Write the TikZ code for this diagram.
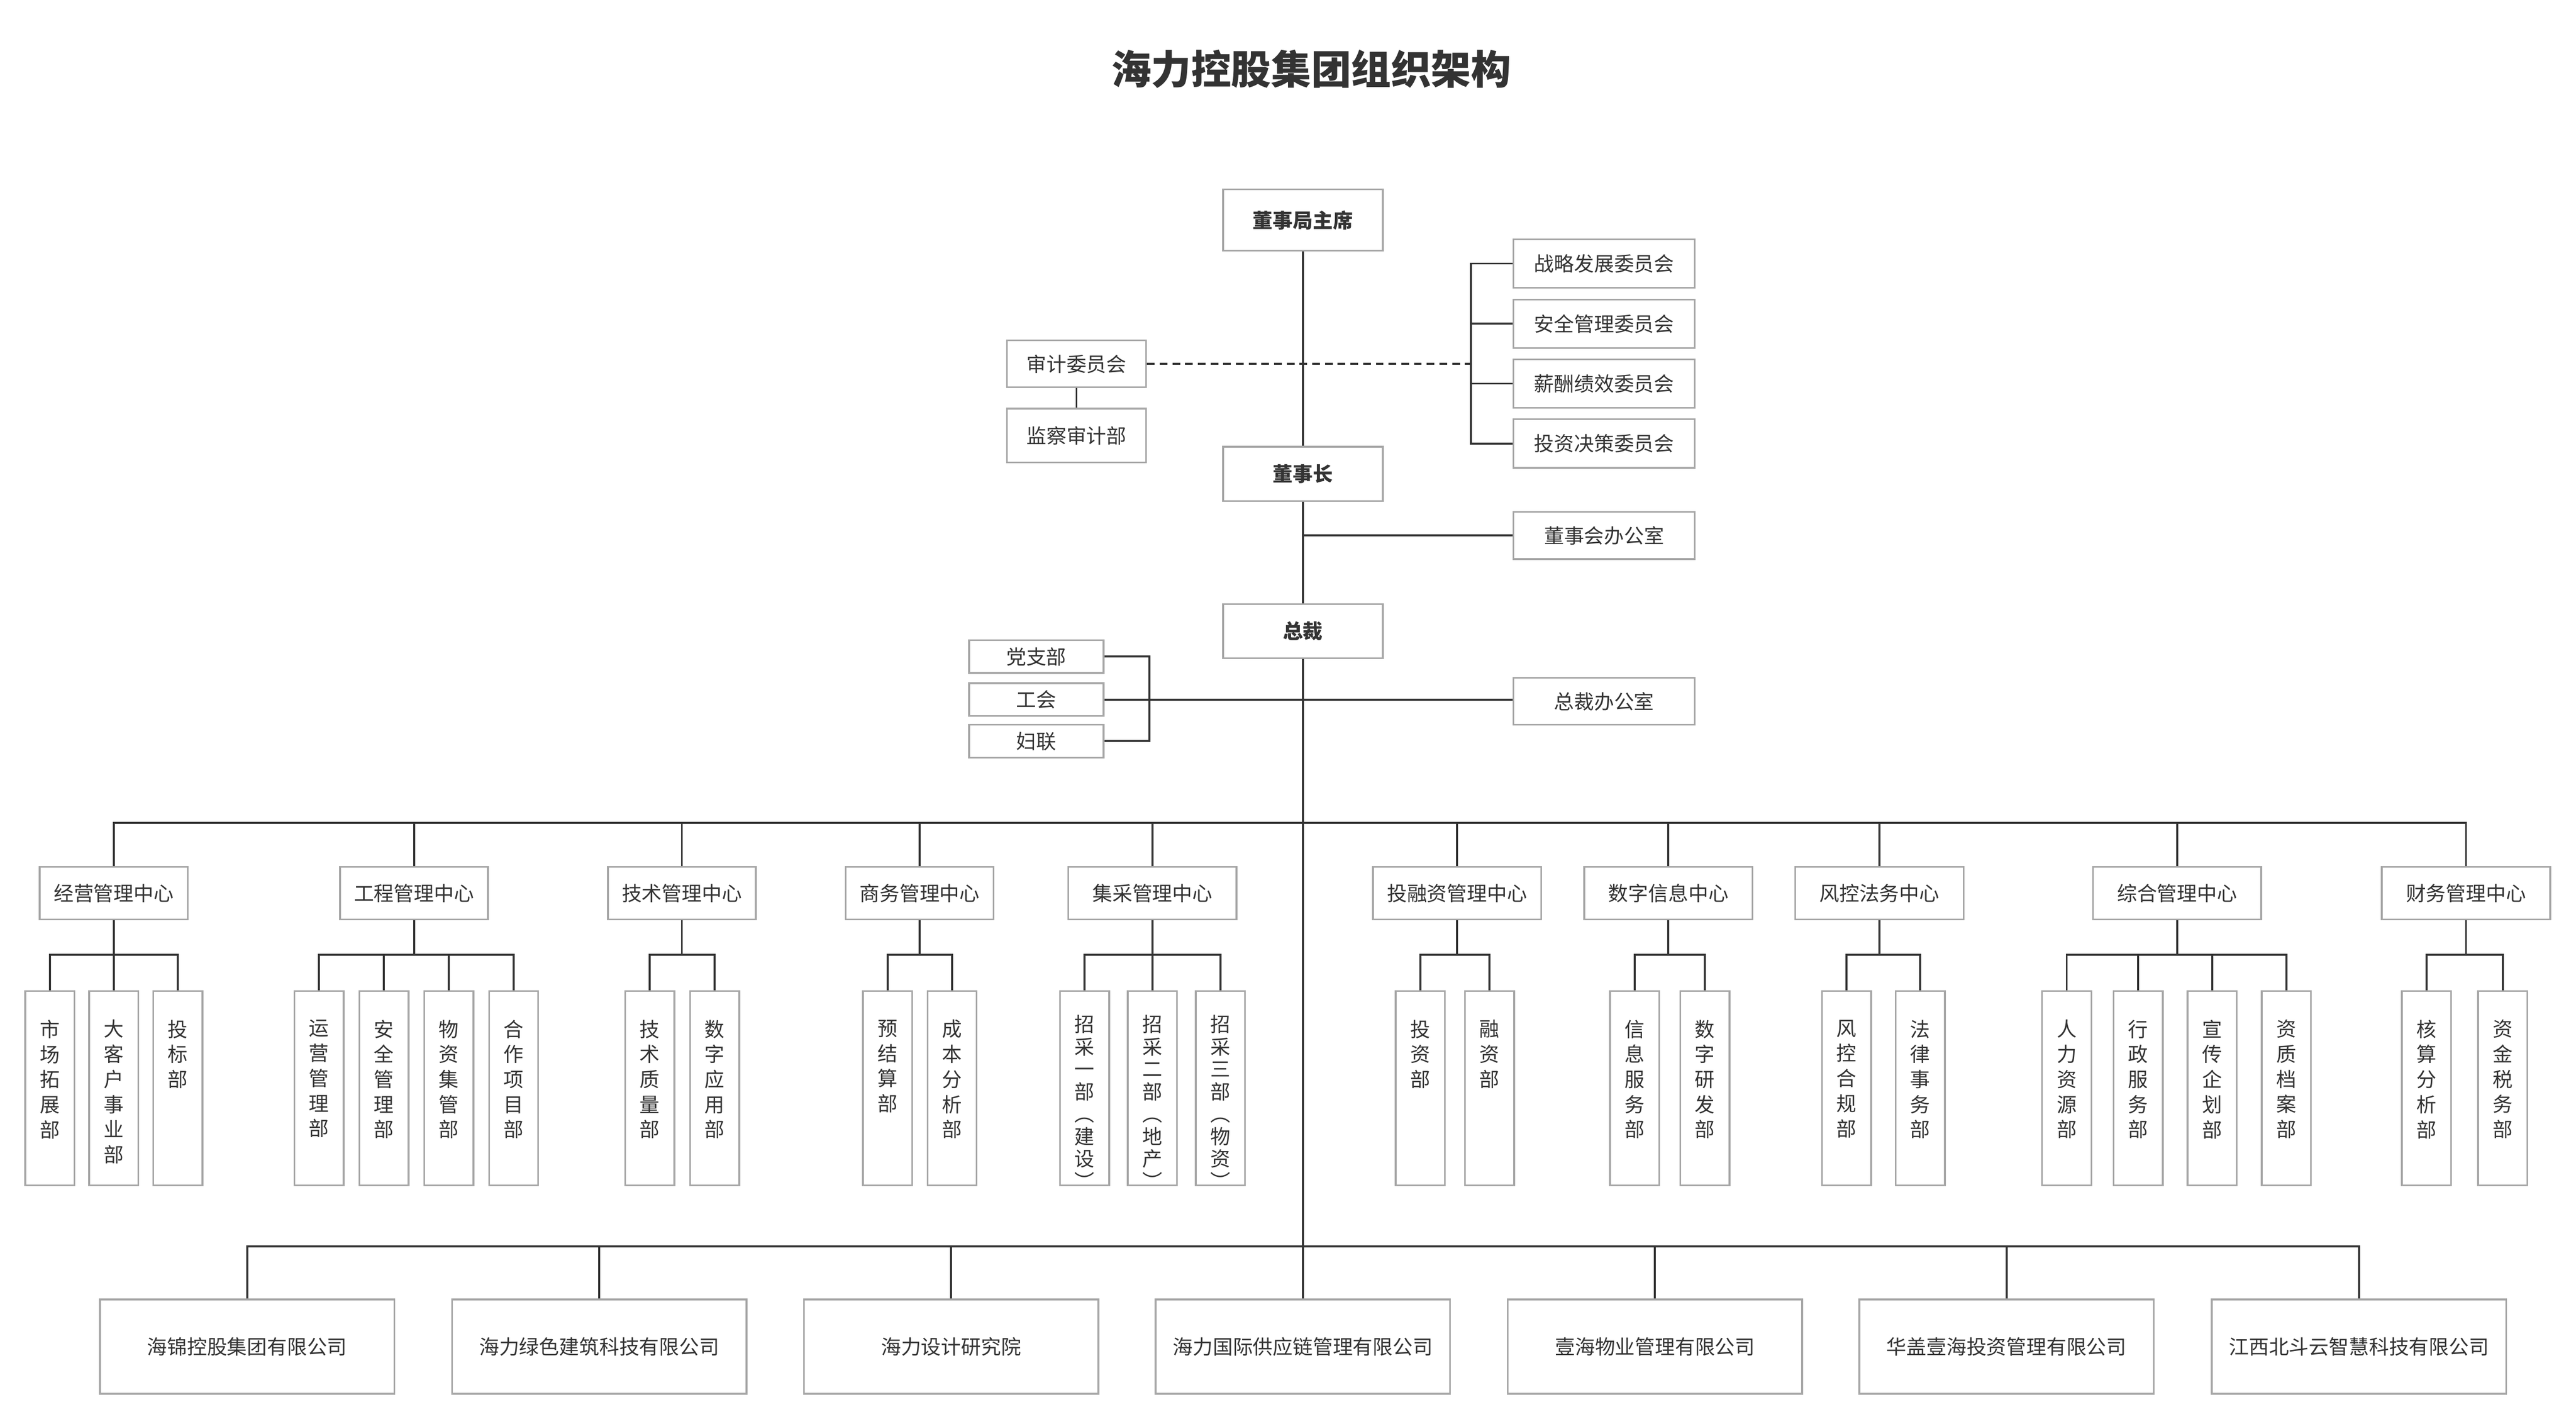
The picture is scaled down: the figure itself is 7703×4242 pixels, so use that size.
\documentclass[tikz,border=0pt]{standalone}
\usepackage{fontspec}
\setmainfont{Noto Sans CJK SC}
\usepackage{tikz}

\definecolor{boxgray}{HTML}{A6A6A6}
\definecolor{inkgray}{HTML}{333333}

\newcommand{\lpar}{\smash{︵}}
\newcommand{\rpar}{\smash{︶}}

\tikzset{
  box/.style={draw=boxgray, line width=1.5pt, fill=white, text=inkgray, inner sep=0pt,
    font=\fontsize{17}{20}\selectfont},
  topbox/.style={box, minimum width=4.77cm, font=\fontsize{17}{20}\selectfont\bfseries},
  combox/.style={box, minimum width=5.42cm, minimum height=1.45cm},
  sidebox/.style={box, minimum width=4.16cm},
  partybox/.style={box, minimum width=4.02cm, minimum height=0.98cm},
  centerbox/.style={box, minimum height=1.57cm},
  deptbox/.style={box, minimum width=1.47cm, minimum height=5.80cm},
  vbase/.style={anchor=north, align=center, text=inkgray, inner sep=0pt},
  vlab/.style={vbase, yshift=-0.88cm, font=\fontsize{17}{21.34}\selectfont},
  vlabtight/.style={vbase, yshift=-0.74cm, font=\fontsize{17}{19.06}\selectfont},
  cobox/.style={box, minimum width=8.80cm, minimum height=2.82cm},
  link/.style={draw=inkgray, line width=1.7pt},
  dashlink/.style={link, dash pattern=on 0.23cm off 0.15cm},
  titletext/.style={text=inkgray, inner sep=0pt, font=\fontsize{34}{40}\selectfont\bfseries},
}

\begin{document}
\begin{tikzpicture}[x=0.01cm, y=-0.01cm]
\useasboundingbox (0,0) rectangle (7703,4242);
\fill[white] (0,0) rectangle (7703,4242);
\node[titletext] (title) at (3921,206) {海力控股集团组织架构}; % Title
\node[topbox, minimum height=1.83cm] (chair) at (3896,658) {董事局主席}; % Top.0
\node[topbox, minimum height=1.62cm] (board) at (3896,1417) {董事长}; % Top.1
\node[topbox, minimum height=1.62cm] (ceo) at (3896,1887) {总裁}; % Top.2
\node[combox] (com1) at (4797,788) {战略发展委员会}; % Committee.0
\node[combox] (com2) at (4797,968) {安全管理委员会}; % Committee.1
\node[combox] (com3) at (4797,1147) {薪酬绩效委员会}; % Committee.2
\node[combox] (com4) at (4797,1326) {投资决策委员会}; % Committee.3
\node[sidebox, minimum height=1.40cm] (audit) at (3219,1088) {审计委员会}; % Side.0
\node[sidebox, minimum height=1.61cm] (supervise) at (3219,1302) {监察审计部}; % Side.1
\node[combox, minimum height=1.41cm] (boardoff) at (4797,1601) {董事会办公室}; % Office.0
\node[combox, minimum height=1.40cm] (ceooff) at (4797,2097) {总裁办公室}; % Office.1
\node[partybox] (party) at (3099,1963) {党支部}; % Party.0
\node[partybox] (union) at (3099,2092) {工会}; % Party.1
\node[partybox] (women) at (3099,2216) {妇联}; % Party.2
\node[centerbox, minimum width=4.42cm] (c1) at (340,2671) {经营管理中心}; % Center.1
\node[centerbox, minimum width=4.42cm] (c2) at (1238,2671) {工程管理中心}; % Center.2
\node[centerbox, minimum width=4.42cm] (c3) at (2039,2671) {技术管理中心}; % Center.3
\node[centerbox, minimum width=4.42cm] (c4) at (2750,2671) {商务管理中心}; % Center.4
\node[centerbox, minimum width=5.03cm] (c5) at (3446,2671) {集采管理中心}; % Center.5
\node[centerbox, minimum width=5.03cm] (c6) at (4357,2671) {投融资管理中心}; % Center.6
\node[centerbox, minimum width=5.03cm] (c7) at (4989,2671) {数字信息中心}; % Center.7
\node[centerbox, minimum width=5.03cm] (c8) at (5620,2671) {风控法务中心}; % Center.8
\node[centerbox, minimum width=5.03cm] (c9) at (6510,2671) {综合管理中心}; % Center.9
\node[centerbox, minimum width=5.03cm] (c10) at (7374,2671) {财务管理中心}; % Center.10
\node[deptbox, label={[vlab]north:{市\\场\\拓\\展\\部}}] (d1a) at (149,3253.5) {}; % Dept.1a
\node[deptbox, label={[vlab]north:{大\\客\\户\\事\\业\\部}}] (d1b) at (340,3253.5) {}; % Dept.1b
\node[deptbox, label={[vlab]north:{投\\标\\部}}] (d1c) at (532,3253.5) {}; % Dept.1c
\node[deptbox, label={[vlab]north:{运\\营\\管\\理\\部}}] (d2a) at (954,3253.5) {}; % Dept.2a
\node[deptbox, label={[vlab]north:{安\\全\\管\\理\\部}}] (d2b) at (1148,3253.5) {}; % Dept.2b
\node[deptbox, label={[vlab]north:{物\\资\\集\\管\\部}}] (d2c) at (1342,3253.5) {}; % Dept.2c
\node[deptbox, label={[vlab]north:{合\\作\\项\\目\\部}}] (d2d) at (1536,3253.5) {}; % Dept.2d
\node[deptbox, label={[vlab]north:{技\\术\\质\\量\\部}}] (d3a) at (1943,3253.5) {}; % Dept.3a
\node[deptbox, label={[vlab]north:{数\\字\\应\\用\\部}}] (d3b) at (2137,3253.5) {}; % Dept.3b
\node[deptbox, label={[vlab]north:{预\\结\\算\\部}}] (d4a) at (2654,3253.5) {}; % Dept.4a
\node[deptbox, label={[vlab]north:{成\\本\\分\\析\\部}}] (d4b) at (2847,3253.5) {}; % Dept.4b
\node[deptbox, label={[vlabtight]north:{招\\采\\一\\部\\\lpar\\建\\设\\\rpar}}] (d5a) at (3243,3253.5) {}; % Dept.5a
\node[deptbox, label={[vlabtight]north:{招\\采\\二\\部\\\lpar\\地\\产\\\rpar}}] (d5b) at (3446,3253.5) {}; % Dept.5b
\node[deptbox, label={[vlabtight]north:{招\\采\\三\\部\\\lpar\\物\\资\\\rpar}}] (d5c) at (3649,3253.5) {}; % Dept.5c
\node[deptbox, label={[vlab]north:{投\\资\\部}}] (d6a) at (4247,3253.5) {}; % Dept.6a
\node[deptbox, label={[vlab]north:{融\\资\\部}}] (d6b) at (4454,3253.5) {}; % Dept.6b
\node[deptbox, label={[vlab]north:{信\\息\\服\\务\\部}}] (d7a) at (4888,3253.5) {}; % Dept.7a
\node[deptbox, label={[vlab]north:{数\\字\\研\\发\\部}}] (d7b) at (5098,3253.5) {}; % Dept.7b
\node[deptbox, label={[vlab]north:{风\\控\\合\\规\\部}}] (d8a) at (5522,3253.5) {}; % Dept.8a
\node[deptbox, label={[vlab]north:{法\\律\\事\\务\\部}}] (d8b) at (5742,3253.5) {}; % Dept.8b
\node[deptbox, label={[vlab]north:{人\\力\\资\\源\\部}}] (d9a) at (6180,3253.5) {}; % Dept.9a
\node[deptbox, label={[vlab]north:{行\\政\\服\\务\\部}}] (d9b) at (6394,3253.5) {}; % Dept.9b
\node[deptbox, label={[vlab]north:{宣\\传\\企\\划\\部}}] (d9c) at (6615,3253.5) {}; % Dept.9c
\node[deptbox, label={[vlab]north:{资\\质\\档\\案\\部}}] (d9d) at (6837,3253.5) {}; % Dept.9d
\node[deptbox, label={[vlab]north:{核\\算\\分\\析\\部}}] (d10a) at (7256,3253.5) {}; % Dept.10a
\node[deptbox, label={[vlab]north:{资\\金\\税\\务\\部}}] (d10b) at (7484,3253.5) {}; % Dept.10b
\node[cobox] (co1) at (739,4026.5) {海锦控股集团有限公司}; % Company.1
\node[cobox] (co2) at (1792,4026.5) {海力绿色建筑科技有限公司}; % Company.2
\node[cobox] (co3) at (2844,4026.5) {海力设计研究院}; % Company.3
\node[cobox] (co4) at (3896,4026.5) {海力国际供应链管理有限公司}; % Company.4
\node[cobox] (co5) at (4949,4026.5) {壹海物业管理有限公司}; % Company.5
\node[cobox] (co6) at (6000,4026.5) {华盖壹海投资管理有限公司}; % Company.6
\node[cobox] (co7) at (7054,4026.5) {江西北斗云智慧科技有限公司}; % Company.7
\coordinate (cbar) at (4398,1088); % committee bracket
\coordinate (pbar) at (3437,2092); % party bracket
\coordinate (bus) at (3896,2460); % center bus
\coordinate (cobus) at (3896,3727); % company bus
\coordinate (s1) at (340,2855); % sub bus 1
\coordinate (s2) at (1238,2855); % sub bus 2
\coordinate (s3) at (2039,2855); % sub bus 3
\coordinate (s4) at (2750,2855); % sub bus 4
\coordinate (s5) at (3446,2855); % sub bus 5
\coordinate (s6) at (4357,2855); % sub bus 6
\coordinate (s7) at (4989,2855); % sub bus 7
\coordinate (s8) at (5620,2855); % sub bus 8
\coordinate (s9) at (6510,2855); % sub bus 9
\coordinate (s10) at (7374,2855); % sub bus 10
\draw[link] (chair.south) -- (board.north); % spine.0
\draw[link] (board.south) -- (ceo.north); % spine.1
\draw[link] (ceo.south) -- (co4.north); % spine.2
\draw[link] (com1.west) -| (cbar) |- (com4.west); % committees
\draw[link] (com2.west) -- (com2.west -| cbar);
\draw[link] (com3.west) -- (com3.west -| cbar);
\draw[dashlink] (audit.east) -- (cbar); % audit
\draw[link] (audit.south) -- (supervise.north);
\draw[link] (boardoff.west) -- (boardoff.west -| board.south); % board office
\draw[link] (party.east) -| (pbar) |- (women.east); % party
\draw[link] (union.east) -- (union.east -| ceooff.west); % ceo office
\draw[link] (c1.north) |- (bus) -| (c10.north); % center bus
\draw[link] (c2.north) -- (c2.north |- bus);
\draw[link] (c3.north) -- (c3.north |- bus);
\draw[link] (c4.north) -- (c4.north |- bus);
\draw[link] (c5.north) -- (c5.north |- bus);
\draw[link] (c6.north) -- (c6.north |- bus);
\draw[link] (c7.north) -- (c7.north |- bus);
\draw[link] (c8.north) -- (c8.north |- bus);
\draw[link] (c9.north) -- (c9.north |- bus);
\draw[link] (c1.south) -- (s1); % sub 1
\draw[link] (d1a.north) |- (s1) -| (d1c.north);
\draw[link] (d1b.north) -- (s1);
\draw[link] (c2.south) -- (s2); % sub 2
\draw[link] (d2a.north) |- (s2) -| (d2d.north);
\draw[link] (d2b.north) -- (d2b.north |- s2);
\draw[link] (d2c.north) -- (d2c.north |- s2);
\draw[link] (c3.south) -- (s3); % sub 3
\draw[link] (d3a.north) |- (s3) -| (d3b.north);
\draw[link] (c4.south) -- (s4); % sub 4
\draw[link] (d4a.north) |- (s4) -| (d4b.north);
\draw[link] (c5.south) -- (s5); % sub 5
\draw[link] (d5a.north) |- (s5) -| (d5c.north);
\draw[link] (d5b.north) -- (s5);
\draw[link] (c6.south) -- (s6); % sub 6
\draw[link] (d6a.north) |- (s6) -| (d6b.north);
\draw[link] (c7.south) -- (s7); % sub 7
\draw[link] (d7a.north) |- (s7) -| (d7b.north);
\draw[link] (c8.south) -- (s8); % sub 8
\draw[link] (d8a.north) |- (s8) -| (d8b.north);
\draw[link] (c9.south) -- (s9); % sub 9
\draw[link] (d9a.north) |- (s9) -| (d9d.north);
\draw[link] (d9b.north) -- (d9b.north |- s9);
\draw[link] (d9c.north) -- (d9c.north |- s9);
\draw[link] (c10.south) -- (s10); % sub 10
\draw[link] (d10a.north) |- (s10) -| (d10b.north);
\draw[link] (co1.north) |- (cobus) -| (co7.north); % company bus
\draw[link] (co2.north) -- (co2.north |- cobus);
\draw[link] (co3.north) -- (co3.north |- cobus);
\draw[link] (co5.north) -- (co5.north |- cobus);
\draw[link] (co6.north) -- (co6.north |- cobus);
\end{tikzpicture}
\end{document}
